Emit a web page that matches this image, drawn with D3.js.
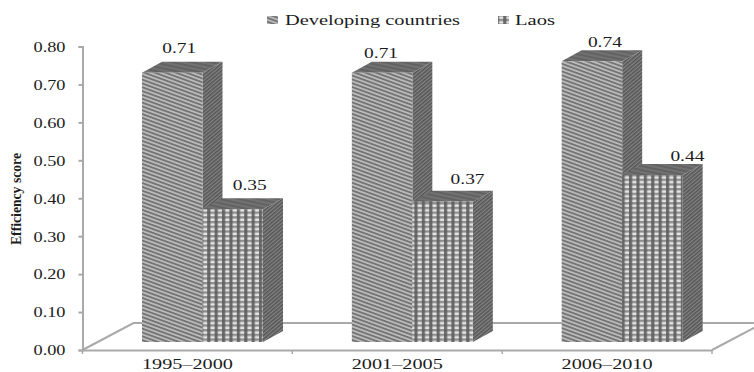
<!DOCTYPE html>
<html>
<head>
<meta charset="utf-8">
<script src="https://cdn.jsdelivr.net/npm/d3@7/dist/d3.min.js"></script>
<style>
  html, body { margin: 0; background: #fff; }
  svg { display: block; }
  text { font-family: "Liberation Serif", serif; fill: #1c1c1c; }
</style>
</head>
<body>
<div id="chart"></div>
<script>
// Efficiency scores by period
const categories = ["1995–2000", "2001–2005", "2006–2010"];
const seriesNames = ["Developing countries", "Laos"];
const developing = [0.71, 0.71, 0.74];
const laos = [0.35, 0.37, 0.44];
const yTicks = [0, 0.1, 0.2, 0.3, 0.4, 0.5, 0.6, 0.7, 0.8];

const width = 754, height = 372;
const svg = d3.select("#chart").append("svg").attr("width", width).attr("height", height);

// Hatch fills for the three faces of each column
const defs = svg.append("defs");
function stripes(id, size, band, bg, fg, angle) {
  const p = defs.append("pattern").attr("id", id).attr("patternUnits", "userSpaceOnUse")
    .attr("width", size).attr("height", size)
    .attr("patternTransform", `rotate(${angle})`);
  p.append("rect").attr("width", size).attr("height", size).attr("fill", bg);
  p.append("rect").attr("width", size).attr("height", band).attr("fill", fg);
}
stripes("devFront", 3.6, 1.9, "#bdbdbd", "#757575", 20);
stripes("side", 2.8, 1.5, "#858585", "#545454", -40);
stripes("top", 4, 2, "#727272", "#626262", 12);

const plaid = defs.append("pattern").attr("id", "laosFront").attr("patternUnits", "userSpaceOnUse")
  .attr("width", 7.4).attr("height", 4.7);
plaid.append("rect").attr("width", 7.4).attr("height", 4.7).attr("fill", "#e6e6e6");
plaid.append("rect").attr("width", 7.4).attr("height", 2.4).attr("fill", "#8f8f8f");
plaid.append("rect").attr("width", 3.2).attr("height", 4.7).attr("fill", "#5e5e5e").attr("opacity", 0.9);

// Scales and axes
const y = d3.scaleLinear().domain([0, 0.8]).range([350, 46.5]);
const x = d3.scaleBand().domain(categories).range([82.5, 712]);
const inner = d3.scaleBand().domain(seriesNames).range([59.5, 180.5]);

// Floor and oblique projection of the chart's depth
const floorDepth = { dx: 51, dy: -27 };
const barDepth = { dx: 20, dy: -11 };
const barLift = -8;

const axisColor = "#a9a9a9";
const floor = svg.append("g").attr("fill", "none").attr("stroke", axisColor).attr("stroke-width", 2);
floor.append("path").attr("d", d3.line()([
  [x.range()[0], y(0)],
  [x.range()[0] + floorDepth.dx, y(0) + floorDepth.dy],
  [x.range()[1] + floorDepth.dx, y(0) + floorDepth.dy]
]));
floor.append("path").attr("d", d3.line()([
  [x.range()[1], y(0)],
  [x.range()[1] + floorDepth.dx, y(0) + floorDepth.dy]
]));

// Axis text is widened a little beyond the natural glyph width
const fitText = (sel, widthOf) => sel
  .attr("font-family", "Liberation Serif").attr("font-size", 15).attr("fill", "#1c1c1c")
  .attr("textLength", widthOf).attr("lengthAdjust", "spacingAndGlyphs");

const yAxis = svg.append("g").attr("transform", `translate(${x.range()[0]},0)`)
  .call(d3.axisLeft(y).tickValues(yTicks).tickFormat(d3.format(".2f")).tickSize(4).tickPadding(13));
const xAxis = svg.append("g").attr("transform", `translate(0,${y(0)})`)
  .call(d3.axisBottom(x).tickSize(0).tickPadding(8));
svg.append("g").attr("stroke", axisColor).attr("stroke-width", 1.5)
  .selectAll("line").data(d3.range(categories.length + 1)).join("line")
  .attr("x1", i => x.range()[0] + i * x.step()).attr("x2", i => x.range()[0] + i * x.step())
  .attr("y1", y(0)).attr("y2", y(0) + 4);
[yAxis, xAxis].forEach(a => a.selectAll(".domain, .tick line").attr("stroke", axisColor).attr("stroke-width", 2));
fitText(yAxis.selectAll("text"), 32);
fitText(xAxis.selectAll("text"), 91);

// Columns: one front, side and top face per value
const rows = seriesNames.flatMap((name, s) => categories.map((cat, c) => ({
  name, cat, s, c, value: (s === 0 ? developing : laos)[c]
})));

const faces = svg.append("g").selectAll("g").data(rows).join("g");
const px0 = d => x(d.cat) + inner(d.name);
const px1 = d => px0(d) + inner.bandwidth();
const base = y(0) + barLift;
const topY = d => base - (y(0) - y(d.value));

faces.append("path").attr("fill", "url(#side)").attr("d", d => d3.line()([
  [px1(d), base], [px1(d), topY(d)],
  [px1(d) + barDepth.dx, topY(d) + barDepth.dy], [px1(d) + barDepth.dx, base + barDepth.dy]
]) + "Z");
faces.append("path").attr("fill", "url(#top)").attr("d", d => d3.line()([
  [px0(d), topY(d)], [px1(d), topY(d)],
  [px1(d) + barDepth.dx, topY(d) + barDepth.dy], [px0(d) + barDepth.dx, topY(d) + barDepth.dy]
]) + "Z");
faces.append("rect")
  .attr("x", px0).attr("y", topY)
  .attr("width", inner.bandwidth()).attr("height", d => base - topY(d))
  .attr("fill", d => d.s === 0 ? "url(#devFront)" : "url(#laosFront)");

// Value labels sit above each column, each nudged clear of its neighbours
const labelNudgeX = [[-3, -11, 3], [7, 15, 25]];
const labelNudgeY = [[-2, 3, 4], [-1, 0, 4]];
svg.append("g").selectAll("text").data(rows).join("text")
  .attr("text-anchor", "middle")
  .attr("font-size", 15)
  .attr("textLength", 34).attr("lengthAdjust", "spacingAndGlyphs")
  .attr("x", d => px0(d) + barDepth.dx / 2 + inner.bandwidth() / 2 + labelNudgeX[d.s][d.c])
  .attr("y", d => topY(d) + barDepth.dy - 7 + labelNudgeY[d.s][d.c])
  .text(d => d3.format(".2f")(d.value));

// Legend
const legendX = [285, 515];
const legendLen = [175, 40];
const swatch = [267, 498];
const legend = svg.append("g").selectAll("g").data(seriesNames).join("g");
legend.append("rect").attr("x", (d, i) => swatch[i]).attr("y", 16).attr("width", 11).attr("height", 8)
  .attr("fill", (d, i) => i === 0 ? "url(#devFront)" : "url(#laosFront)");
legend.append("text").attr("x", (d, i) => legendX[i]).attr("y", 25)
  .attr("font-size", 15)
  .attr("textLength", (d, i) => legendLen[i]).attr("lengthAdjust", "spacingAndGlyphs")
  .text(d => d);

// Vertical axis title
svg.append("text").attr("transform", "translate(21,199) rotate(-90)")
  .attr("text-anchor", "middle").attr("font-size", 14).attr("font-weight", "bold")
  .attr("textLength", 92).attr("lengthAdjust", "spacingAndGlyphs")
  .text("Efficiency score");
</script>
</body>
</html>
